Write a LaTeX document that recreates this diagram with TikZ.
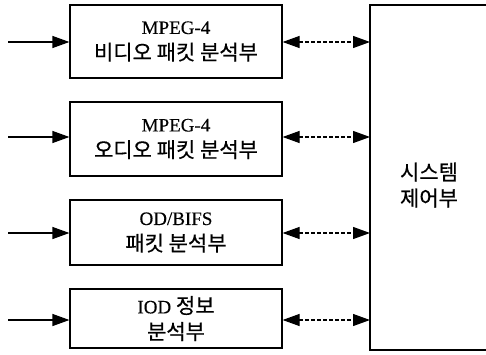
\documentclass[tikz,border=0pt]{standalone}
\usepackage{fontspec}
\setmainfont[FakeBold=0.3]{Liberation Serif}
\newfontfamily\kr[FakeBold=0.5]{Noto Sans CJK KR}
\newcommand\kox[1]{{\kr\fontsize{21}{26}\selectfont #1}}
\usetikzlibrary{arrows.meta}
\begin{document}
\begin{tikzpicture}[x=1pt,y=-1pt,
  blk/.style={draw,line width=1.2pt,inner sep=0pt,align=center,font=\fontsize{19}{26}\selectfont},
  inarr/.style={line width=1.2pt,-{Triangle[length=17pt,width=12pt]}},
  darr/.style={line width=1.2pt,dash pattern=on 4pt off 2pt,{Triangle[length=17pt,width=12pt]}-{Triangle[length=17pt,width=12pt]}}]
\useasboundingbox (0,0) rectangle (486,354);
\node[blk,minimum width=212pt,minimum height=73pt] (b1) at (176,41.5) {MPEG-4\\\kox{비디오 패킷 분석부}};
\node[blk,minimum width=212pt,minimum height=74pt] (b2) at (176,139) {MPEG-4\\\kox{오디오 패킷 분석부}};
\node[blk,minimum width=212pt,minimum height=65pt] (b3) at (176,232.5) {OD/BIFS\\\kox{패킷 분석부}};
\node[blk,minimum width=212pt,minimum height=59pt] (b4) at (176,318.5) {IOD \kox{정보}\\\kox{분석부}};
\coordinate (stl) at (370,5);
\coordinate (str) at (486,5);
\coordinate (sbl) at (370,350);
\coordinate (sbr) at (486,350);
\draw[line width=1.2pt] (str) -- (stl) -- (sbl) -- (sbr);
\node[align=center,font=\fontsize{19}{26}\selectfont] (sys) at (429,185) {\kox{시스템}\\\kox{제어부}};
\foreach \n/\y in {1/42,2/137,3/233,4/320}{
  \coordinate (in\n) at (8,\y);
  \draw[inarr] (in\n) -- (b\n.west |- in\n);
  \coordinate (s\n) at (370,\y);
  \draw[darr] (b\n.east |- in\n) -- (s\n);
}
\end{tikzpicture}
\end{document}
